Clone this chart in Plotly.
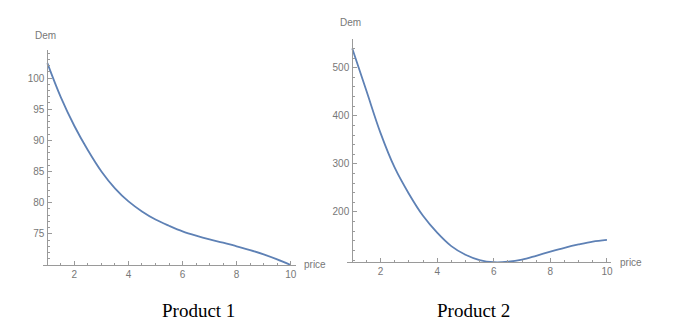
import plotly.graph_objects as go

# price grid (both products)
price = [1, 1.5, 2, 2.5, 3, 3.5, 4, 4.5, 5, 5.5, 6, 6.5, 7, 7.5, 8, 8.5, 9, 9.5, 10]

# demand
dem_product1 = [102.4, 96.9, 92.3, 88.4, 85.0, 82.3, 80.2, 78.6, 77.3, 76.3,
                75.4, 74.7, 74.1, 73.6, 73.0, 72.4, 71.7, 70.9, 70.0]
dem_product2 = [540, 452, 364, 292, 238, 192, 157, 129, 111, 100,
                95.5, 96.5, 101, 109, 117.5, 125.5, 132.5, 138.5, 142]

x_ticks = [2, 4, 6, 8, 10]
y_ticks1 = [75, 80, 85, 90, 95, 100]
y_ticks2 = [200, 300, 400, 500]
captions = ["Product 1", "Product 2"]

W, H = 681, 323
line_col = "#5E81B5"
axis_col = "#9a9a9a"
tick_font = dict(family="Liberation Sans Narrow, Liberation Sans, Arial", size=10, color="#777777")


def px_x(p):
    return p / W


def px_y(p):
    return (H - p) / H


fig = go.Figure()
fig.add_trace(go.Scatter(x=price, y=dem_product1, mode="lines", xaxis="x", yaxis="y",
                         line=dict(color=line_col, width=1.8, shape="spline", smoothing=1.0),
                         cliponaxis=False, hoverinfo="x+y"))
fig.add_trace(go.Scatter(x=price, y=dem_product2, mode="lines", xaxis="x2", yaxis="y2",
                         line=dict(color=line_col, width=1.8, shape="spline", smoothing=1.0),
                         cliponaxis=False, hoverinfo="x+y"))

xcommon = dict(showgrid=False, zeroline=False, showline=True, linecolor=axis_col, linewidth=1,
               ticks="inside", ticklen=4, tickcolor=axis_col, tickvals=x_ticks,
               tickfont=tick_font, fixedrange=True,
               minor=dict(dtick=0.5, tick0=0, ticks="inside", ticklen=2, tickcolor=axis_col, showgrid=False))
ycommon = dict(showgrid=False, zeroline=False, showline=True, linecolor=axis_col, linewidth=1,
               ticks="inside", ticklen=4, tickcolor=axis_col,
               tickfont=tick_font, fixedrange=True, ticklabelstandoff=1)

fig.update_layout(
    width=W, height=H,
    margin=dict(l=0, r=0, t=0, b=0),
    paper_bgcolor="white", plot_bgcolor="white",
    showlegend=False,
    xaxis=dict(xcommon, domain=[px_x(42.7), px_x(296.7)], range=[0.823, 10.19], anchor="y"),
    yaxis=dict(ycommon, domain=[px_y(265), px_y(50)], range=[70, 104.5],
               anchor="free", position=px_x(47.5), tickvals=y_ticks1,
               minor=dict(dtick=1, tick0=0, ticks="inside", ticklen=2, tickcolor=axis_col, showgrid=False)),
    xaxis2=dict(xcommon, domain=[px_x(348), px_x(612.7)], range=[0.813, 10.14], anchor="y2"),
    yaxis2=dict(ycommon, domain=[px_y(262.3), px_y(39.3)], range=[95.4, 559],
                anchor="free", position=px_x(353.3), tickvals=y_ticks2,
                minor=dict(dtick=20, tick0=0, ticks="inside", ticklen=2, tickcolor=axis_col, showgrid=False)),
)

label_font = dict(family="Liberation Sans Narrow, Liberation Sans, Arial", size=10, color="#777777")
annots = [
    ("Dem", px_x(46), px_y(35), "center"),
    ("price", px_x(303), px_y(264), "left"),
    ("Dem", px_x(352), px_y(22), "center"),
    ("price", px_x(620), px_y(262), "left"),
]
for txt, ax, ay, xa in annots:
    fig.add_annotation(text=txt, x=ax, y=ay, xref="paper", yref="paper",
                       xanchor=xa, yanchor="middle", showarrow=False, font=label_font)

for txt, cx in zip(captions, [199, 475]):
    fig.add_annotation(text=txt, x=px_x(cx), y=px_y(310), xref="paper", yref="paper",
                       xanchor="center", yanchor="middle", showarrow=False,
                       font=dict(family="Liberation Serif, Times New Roman, serif", size=19, color="black"))

fig.write_html("out.html", config={"displayModeBar": False},
               post_script="document.body.style.margin='0';document.body.style.overflow='hidden';")
